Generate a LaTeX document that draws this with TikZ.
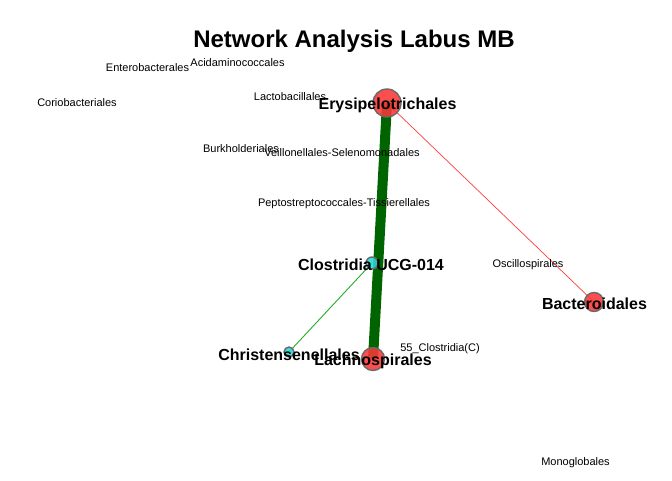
\documentclass[tikz,border=0pt]{standalone}
\usepackage{fontspec}
\setmainfont{Liberation Sans}
\usetikzlibrary{positioning}
\definecolor{mynodered}{RGB}{250,55,55}
\definecolor{mynodecyan}{RGB}{40,215,215}
\definecolor{myrimgray}{RGB}{105,105,105}
\definecolor{mydarkgreen}{RGB}{0,100,0}
\definecolor{mylightgreen}{RGB}{40,170,40}
\definecolor{myedgered}{RGB}{255,60,60}
\tikzset{
  taxondot/.style args={#1,#2}{shape=circle,inner sep=0pt,minimum size=#2,fill=#1,fill opacity=0.88,draw=myrimgray,line width=1.4pt},
  biglabel/.style={inner sep=0pt,font=\fontsize{16}{16}\selectfont\bfseries},
  smalllabel/.style={inner sep=0pt,font=\fontsize{11}{11}\selectfont}
}

\begin{document}
\begin{tikzpicture}[x=1pt, y=-1pt]
\useasboundingbox (0,0) rectangle (672,480);
\node[inner sep=0pt, font=\fontsize{24}{24}\selectfont\bfseries] (title) at (354,41) {Network Analysis Labus MB};
\coordinate (erysi) at (387,103);
\coordinate (lachno) at (373,359);
\coordinate (bactero) at (594,302);
\coordinate (clostr) at (372,263);
\coordinate (christ) at (289,352);
\draw[mydarkgreen, line width=10pt] (erysi) -- (lachno);
\draw[myedgered, line width=0.7pt] (erysi) -- (bactero);
\draw[mylightgreen, line width=0.9pt] (clostr) -- (christ);
\node[taxondot={mynodered,28pt}] (erysidot) at (erysi) {};
\node[taxondot={mynodered,23pt}] (lachnodot) at (lachno) {};
\node[taxondot={mynodered,19pt}] (bacterodot) at (bactero) {};
\node[taxondot={mynodecyan,12pt}] (clostrdot) at (clostr) {};
\node[taxondot={mynodecyan,10pt}] (christdot) at (christ) {};
\node[biglabel] (erysilab) at (387.5,105.5) {Erysipelotrichales};
\node[biglabel] (lachnolab) at (373,361.5) {Lachnospirales};
\node[biglabel] (bacterolab) at (594.5,303.5) {Bacteroidales};
\node[biglabel] (clostrlab) at (371,264.5) {Clostridia UCG-014};
\node[biglabel] (christlab) at (289,354.5) {Christensenellales};
\node[smalllabel] (entero) at (147.5,67.5) {Enterobacterales};
\node[smalllabel] (acida) at (237.5,62.5) {Acidaminococcales};
\node[smalllabel] (corio) at (77,102.5) {Coriobacteriales};
\node[smalllabel] (lacto) at (290,96.5) {Lactobacillales};
\node[smalllabel] (burk) at (241,148.5) {Burkholderiales};
\node[smalllabel] (veill) at (342,152.5) {Veillonellales-Selenomonadales};
\node[smalllabel] (pepto) at (344,203.5) {Peptostreptococcales-Tissierellales};
\node[smalllabel] (oscillo) at (528,264.5) {Oscillospirales};
\node[smalllabel] (clostc) at (440,348.5) {55\_Clostridia(C)};
\node[smalllabel] (monog) at (575.5,462.5) {Monoglobales};
\end{tikzpicture}
\end{document}
